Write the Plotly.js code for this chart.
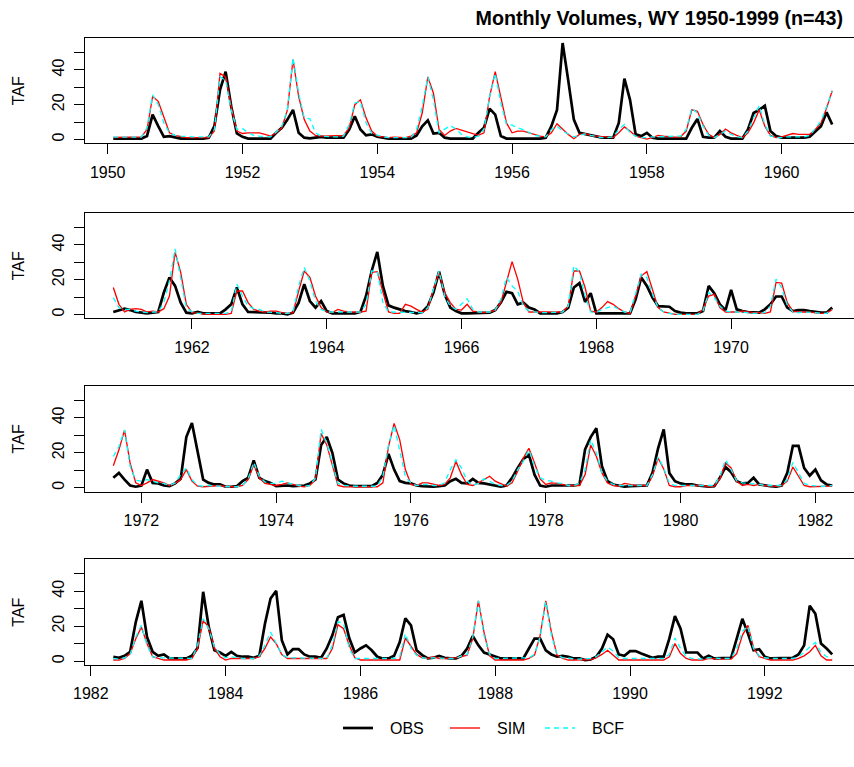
<!DOCTYPE html>
<html>
<head>
<meta charset="utf-8">
<script src="https://cdn.plot.ly/plotly-3.0.1.min.js"></script>
<style>html,body{margin:0;padding:0;background:#fff;}#chart{width:854px;height:767px;}</style>
</head>
<body>
<div id="chart"></div>
<script>
// First month (decimal year, as plotted) of each panel; 129 months per panel
const panelStart = [1950.0833, 1960.8333, 1971.5833, 1982.3333];
const seriesNames = ['OBS', 'SIM', 'BCF'];
const yTickVals = [0, 10, 20, 30, 40, 50];
const yTickText = ['0', '', '20', '', '40', ''];
const xTickVals = [
  [1950, 1952, 1954, 1956, 1958, 1960],
  [1962, 1964, 1966, 1968, 1970],
  [1972, 1974, 1976, 1978, 1980, 1982],
  [1982, 1984, 1986, 1988, 1990, 1992]
];
const xTickText = [
  ['1950', '1952', '1954', '1956', '1958', '1960'],
  ['1962', '1964', '1966', '1968', '1970'],
  ['1972', '1974', '1976', '1978', '1980', '1982'],
  ['1982', '1984', '1986', '1988', '1990', '1992']
];

// ---- Panel 1 (WY 1950-1960) ----
const obs1 = [0.5,0.5,0.5,0.5,0.5,0.5,2,14.3,7.6,1.5,
  1.9,1,0.5,0.5,0.5,0.5,0.5,1,7.6,28.5,
  39,19,3.4,1.5,0.5,0.5,0.5,0.5,0.5,3.8,
  6.7,11.4,17,3.8,1,0.6,1,1.5,1,1,
  1,1,5.7,13.3,5.7,2.3,2.9,1.5,1,0.4,
  0.4,0.4,0.4,0.4,2.3,7.6,11,3.4,3.8,1,
  0.5,0.5,0.5,0.5,0.5,3.8,6.7,17.7,14.3,1.9,
  0.5,0.5,0.5,0.5,0.5,0.5,0.5,1,7.6,17,
  55.5,34,11.4,3.8,3.2,2.3,1.9,1,1,1,
  9.5,35,22.8,2.9,1.9,3.8,1,0.5,0.5,0.5,
  0.5,0.5,0.5,6.7,11.8,1.5,1,1,4.8,1.5,
  0.5,0.5,0.5,5.7,15.2,17,19.4,4.8,1.9,1,
  1,1,1,1,1.5,4.8,7.6,15.6,8.6];
const sim1 = [1.1,1.1,1.1,1.1,1.1,1.5,5.7,24.7,21.9,12.4,
  3.8,2.3,1.5,1,1,1,1,1,4.8,38,
  36,19,4.8,3.4,3.8,3.8,3.8,2.9,1.9,3.8,
  6.7,17,46,24.7,11.4,4.8,2.3,1.9,1.9,1.9,
  1.9,2.3,6.7,20,22.8,12.4,4.8,1.9,1.5,1,
  1.3,1,1,1.9,3.8,15.2,36,26.6,5.7,2.3,
  4.8,6.3,5.3,4.2,3.4,2.3,3.8,24.7,39,24.7,
  9.5,3.8,4.8,4.8,3.8,2.9,1.9,1.5,3.8,9,
  5.7,2.9,0.4,2.9,3.3,2.3,1.9,1.5,1,1,
  3.8,7.2,4.8,1.9,1,0.2,1,2.3,1.9,1.5,
  1.3,1.5,4.8,17,16.2,8.6,2.9,1,2.9,6,
  3.8,2.3,1,3.8,9.5,17,7.6,2.3,1,1.5,
  2.3,3.4,2.9,2.9,2.9,5.7,9.5,18,28];
const bcf1 = [1.3,1.3,1.3,1.3,1.3,1.3,6.7,25.7,20,9.5,
  3.8,2.3,1.9,1.5,1.5,1.5,1.5,1.5,5.7,36,
  34,17,5.7,6.3,3.8,2.3,1.9,1.9,1.5,4.2,
  7.6,17,47,26.6,12.4,11.8,3.8,1.9,1.5,1.5,
  1.5,1.9,8.6,21,21.9,9.5,3.4,2.3,1.5,1,
  1,1,1,1,5.7,19,36,22.8,3.8,5.7,
  8,6,2.9,1.5,1,1.9,6,24.7,38,21,
  8.6,8.2,6.7,5.7,3.8,2.3,1.9,1.5,5.7,7.6,
  4.8,2.9,1.5,2.3,3.2,2.3,1.5,1,1,1.5,
  5.7,8.6,3.8,1.9,1,1,1.5,1.5,1.5,1.5,
  1.5,1.9,5.7,18,15.2,7.6,2.3,1,2.9,4.8,
  2.9,1.5,1,4.8,12.4,19.4,8.6,1.9,1,1,
  1.5,1.5,1.5,1.5,2.3,6.7,10.5,19,27.6];

// ---- Panel 2 ----
const obs2 = [1.4,2.3,3.3,2.5,1.4,1,0.6,1,1.4,12.6,
  21.3,16.4,6.8,1,0.6,1.4,0.6,0.6,0.6,0.6,
  2.9,5.8,15.5,5.8,1.4,1.4,1.4,1,1,0.6,
  0.6,0,1,6.8,17.4,7.7,3.9,7.7,1.9,0.6,
  0.6,0.6,0.6,0.6,1.4,10.6,25,36,16.4,5.2,
  3.9,2.9,1.9,1.4,0.6,1.4,4.8,12.6,24.6,11.6,
  3.9,1.9,0.6,0.6,0.6,1,0.6,1,2.5,6.8,
  13,12.2,5.8,6.8,3.9,2.9,0.6,0.6,0.6,0.6,
  1.4,3.9,15.5,18,7.2,12.2,0.6,0.6,0.6,0.6,
  0.6,0.6,0.6,8.7,21.3,16.4,9.7,4.8,4.4,4.4,
  1.9,1,0.6,0.6,0.6,1.9,16.4,12.2,5.8,2.5,
  14.1,2.9,1.9,1.4,1.4,1,2.9,5.8,10.3,10.3,
  3.9,1.9,2.5,2.5,1.9,1.4,1,1,3.9];
const sim2 = [15.5,5.8,1.4,2.9,3.3,2.9,1.4,1.9,1.4,3.3,
  10.6,35.8,24.2,5.8,1,0.6,0,0,0,0,
  0,0.6,13.5,13.5,6.8,2.9,1.9,1.4,1.9,1.9,
  1,0.6,1,13.5,25,21.3,10.6,3.9,1.4,1,
  2.9,1.9,1.4,1.4,1.4,1.9,24.2,24.6,12.6,1.4,
  0.6,0.6,5.8,4.8,2.9,1.4,2.9,14.5,24.2,12.6,
  6.8,2.9,2.5,5.8,1.9,1.4,1,1.4,2.5,6.8,
  18.4,30.4,20.3,6.8,1.4,1.4,1,1,1,1,
  1.4,4.8,25,25,15.5,1.9,1.4,3.9,7.4,5.8,
  3.3,1.4,0.6,10.6,22.2,24.6,14.5,3.9,1.4,0.6,
  0,0,0,0,0,2.9,10.6,11.6,3.9,1.4,
  1.4,1.4,1.9,1.4,1,1,0.6,1.4,18.4,18,
  6.8,1.9,1.4,1.4,1.4,1,0.6,0.6,2.9];
const bcf2 = [9.7,3.9,2.9,2.9,1.9,1.4,1,1.4,1.4,6.8,
  19.3,37.7,21.3,3.9,1.4,0.6,0.6,0.6,0.6,0.6,
  0.6,1.4,17.4,10.6,4.8,3.3,2.9,1.4,1.4,1,
  0.6,0.6,1.4,16.4,27,19.3,7.7,2.9,1.4,1.2,
  1.4,1.4,1.4,1.4,1.4,5.8,25,25,6.8,1.4,
  1.4,1.4,1.4,1.4,1,1,3.9,14.5,25,10.6,
  4.8,2.9,5.8,9,2.9,1.4,1.4,1.4,2.5,8.7,
  21.3,16.4,13.5,4.8,1.9,1.4,1,1,1,1,
  1.4,4.8,28,24.2,10.6,1.4,1,2.9,3.9,4.8,
  2.9,1.4,1,12.6,23.2,21.3,11.6,3.9,1.4,0.6,
  0,0,0,0,0,1.9,12.6,9.7,4.8,1.9,
  1.4,1.4,1.4,1,0.6,0.6,1,4.8,20.3,15.5,
  5.2,1.4,1,1.4,1.4,1,0.6,0.6,2.9];

// ---- Panel 3 ----
const obs3 = [5.7,8.5,4.7,1.3,0.6,1.3,10.4,2.8,2.5,1.3,
  0.9,2.5,5.1,29,37,19.8,4.7,2.8,1.9,1.9,
  0.6,0.6,0.9,3.8,5.7,15.7,5.7,3.8,2.8,0.9,
  1.3,1.3,0.9,0.9,1.3,2.5,4.7,24.5,29,20,
  4.7,2.5,1.3,0.9,0.9,0.9,0.9,2.8,7.5,19.4,
  10.4,3.8,2.8,2.5,1.3,0.9,0.6,0.6,0.9,1.3,
  3.8,5.1,2.8,2.5,5.1,2.8,2.5,1.9,1.3,0.6,
  1.3,5.7,11.3,16.4,18.9,7.5,1.3,0.6,1.3,1.3,
  1.3,0.9,1.3,1.9,22,29,34,12.3,3.8,1.9,
  1.3,0.6,0.9,0.9,0.9,1.3,8.5,22.6,33.4,8.5,
  3.8,2.5,1.9,1.9,1.3,0.9,0.6,0.9,5.7,11.9,
  8.9,3.8,2.5,2.8,5.7,1.9,1.3,0.9,0.6,1.3,
  8.5,24,24,11.3,7,10.4,4.2,1.9,1.3];
const sim3 = [12.6,21.7,33,14,2.8,1.3,2.8,4.7,3.8,2.8,
  1.3,2.5,4.7,10.4,3.8,0.9,0.6,0.9,1.3,1.3,
  0.6,0.6,0.6,1.3,4.7,13.2,5.7,2.5,1.9,1.3,
  1.9,2.8,1.9,0.9,0.6,1.3,4.7,31,24.5,12.3,
  1.3,0.6,0.6,0.6,0.6,0.6,0.6,0.6,2.8,23.6,
  36.8,27.4,10.4,1.9,1.3,2.8,2.8,1.9,1.3,1.9,
  5.7,15.1,7.5,1.9,1.3,2.8,4.7,6.6,3.8,2.5,
  0.9,2.8,9.4,17,22.6,14.2,5.1,1.9,2.8,2.5,
  1.9,1.3,1.3,1.3,7.5,24.5,18,8.5,2.8,1.3,
  0.9,2.5,1.9,1.3,1.3,1.3,6.6,17,10.8,1.3,
  0.6,0.6,1.3,1.3,1.3,1.3,0.6,0.9,5.1,14.2,
  11.3,3.8,1.3,1.9,1.3,1.9,1.3,0.9,0.9,1.3,
  3.8,11.9,6.6,1.3,0.6,0.6,0.6,0.6,0.9];
const bcf3 = [17.9,23.6,33,12.3,4.3,3.8,4.7,3.8,2.8,2.5,
  1.3,2.8,7.5,11.3,4.7,1.3,0.9,1.3,1.3,0.9,
  0.6,0.6,0.6,1.3,5.1,14.5,6.6,3.3,2.5,2.5,
  3.8,2.8,1.9,1.3,0.9,1.3,5.7,33.4,25.5,14.2,
  2.5,1.3,0.9,0.9,0.9,0.9,0.9,0.9,6.6,24.5,
  35.8,21.7,6.6,2.5,1.3,1.9,1.9,1.3,1.3,2.8,
  10.4,16,11.3,3.8,1.3,2.5,5.1,3.8,1.9,1.3,
  1.3,3.8,10.4,15.1,21.7,12.3,5.7,4.3,3.8,2.8,
  2.5,1.3,1.3,2.5,10.4,27.4,19.8,8.5,3.8,1.9,
  1.3,1.3,1.3,1.3,1.3,1.3,7.5,17.5,11.3,2.5,
  1.3,1.3,1.3,1.3,1.3,1.3,0.9,1.3,6.6,16,
  10.4,3.8,2.8,2.5,2.5,1.9,1.3,1.3,0.9,1.3,
  4.7,14.5,8.5,2.5,1.3,0.9,0.9,0.9,1.3];

// ---- Panel 4 ----
const obs4 = [2.5,1.9,3,5.3,22.3,34.5,13.8,5.3,3,3.8,
  1.5,1.5,1.5,1.5,3,7.5,39.6,19.4,6.2,4.9,
  3,5.3,3,2.5,2.5,1.9,3,21.3,35.8,40.2,
  11.9,3.8,6.8,6.8,3.8,2.5,2.5,1.9,7.2,14.7,
  25.1,26.4,13.2,4.9,7.2,9,6.2,2.5,1.5,1.5,
  3,10.9,24.5,20.4,6.2,3.4,1.5,1.9,3,1.9,
  1.5,1.5,3,7.2,14.3,9,4.9,3.8,2.5,1.5,
  1.5,1.5,1.5,1.5,7.2,12.8,12.8,6.2,3.8,2.5,
  3,2.5,1.5,1.5,0.6,0.9,2.5,7.2,15.1,12.5,
  3.8,3,5.7,5.7,4.3,3,1.9,2.5,2.5,12.8,
  25.7,18.5,4.9,4.9,4.9,1.5,3,1.5,1.5,1.5,
  1.9,12.8,24.2,15.7,6.2,6.8,2.5,1.5,1.5,1.5,
  1.5,1.9,3.8,9,31.7,27,10,7.2,3.8];
const sim4 = [0.6,0.6,1.5,4.3,12.8,19.4,10,2.5,1.5,0.6,
  0.6,0.6,0.6,0.6,1.5,7.2,23.2,19.4,7.2,2.5,
  0.6,1.5,1.5,1.5,1.5,1.5,2.5,7.2,13.8,10,
  3.8,1.5,1.5,1.5,1.5,1.5,1.5,1.5,1.5,7.2,
  20.8,18.5,9,1.9,0.6,0.6,0.6,0.6,0.6,0.6,
  0.6,0.6,13.2,8.1,3.8,1.9,1.5,2.5,1.5,1.5,
  1.5,1.9,2.5,3.4,12.8,34.5,16.6,3,0.6,0.6,
  0.6,0.6,0.6,0.6,1.5,3.4,14.7,34.5,16.6,3.4,
  1.5,0.6,0.6,0.6,0.6,0.9,1.9,3.8,6.2,3.4,
  0.6,0.6,0.6,0.6,0.6,0.6,0.6,0.6,0.6,2.5,
  10,4.3,1.5,0.6,0.6,0.6,1.5,1.1,1.1,1.1,
  1.1,4.3,14.7,20.4,7.5,2.5,1.5,0.6,0.6,0.6,
  0.6,0.6,1.5,3,5.3,9,3,0.6,0.6];
const bcf4 = [1.5,1.1,1.9,3.8,13.8,20.4,9,2.5,1.9,1.9,
  1.5,1.5,1.5,1.5,1.5,9,24.2,18.5,8.1,3.8,
  1.9,2.5,1.9,1.5,1.5,1.5,3,9,16.6,10,
  3.8,1.9,1.9,1.5,1.5,1.5,1.5,1.5,1.5,9,
  22.5,21.3,7.2,1.5,1.5,1.5,1.5,1.5,1.5,1.5,
  1.5,2.5,15.7,7.2,3.4,1.9,1.5,1.9,1.5,1.5,
  1.5,1.5,3,3.8,13.8,34.5,14.7,3.8,1.5,1.5,
  1.5,1.5,1.5,1.5,1.9,3.8,13.8,34,15,3.8,
  1.9,1.9,1.1,1.1,1.1,1.5,2.5,5.3,8.1,5.7,
  1.9,1.5,1.5,1.5,1.5,1.5,1.5,1.5,1.5,3.8,
  13.2,7.2,2.5,1.5,1.5,1.1,1.9,1.5,1.5,1.5,
  1.5,7.2,17,20,7.2,3,1.9,1.5,1.5,1.5,
  1.5,1.5,2.5,4.9,8.1,10.6,4.9,2.5,1.5];

const panels = [[obs1, sim1, bcf1], [obs2, sim2, bcf2], [obs3, sim3, bcf3], [obs4, sim4, bcf4]];

// ---- styling ----
const W = 854, H = 767;
const FONT = 'Liberation Sans, Arial, sans-serif';
const FS = 16;
const styles = [
  {color: '#000000', width: 2.7, dash: 'solid'},
  {color: '#ff0000', width: 1.33, dash: 'solid'},
  {color: '#00ffff', width: 1.33, dash: '5px,4px'}
];
// plot boxes in pixels: [top, bottom]
const boxes = [[38.3, 143.3], [213.3, 318.3], [386, 491.7], [559.3, 665]];
const leftPx = 85;

const traces = [];
const layout = {
  width: W, height: H,
  margin: {l: 0, r: 0, t: 0, b: 0},
  paper_bgcolor: '#ffffff', plot_bgcolor: '#ffffff',
  font: {family: FONT, size: FS, color: '#000'},
  showlegend: false,
  annotations: [],
  shapes: []
};

panels.forEach((series, p) => {
  const n = series[0].length;
  const xs = [];
  for (let i = 0; i < n; i++) xs.push(panelStart[p] + i / 12);
  const xa = 'x' + (p === 0 ? '' : p + 1);
  const ya = 'y' + (p === 0 ? '' : p + 1);
  series.forEach((vals, s) => {
    traces.push({
      x: xs, y: vals, type: 'scatter', mode: 'lines',
      name: seriesNames[s], showlegend: false,
      line: {color: styles[s].color, width: styles[s].width, dash: styles[s].dash},
      xaxis: xa, yaxis: ya, hoverinfo: 'skip'
    });
  });
  const [top, bot] = boxes[p];
  const xKey = 'xaxis' + (p === 0 ? '' : p + 1);
  const yKey = 'yaxis' + (p === 0 ? '' : p + 1);
  layout[xKey] = {
    domain: [leftPx / W, 1],
    range: [panelStart[p] - 0.42, panelStart[p] + 10.99],
    anchor: ya,
    showgrid: false, zeroline: false,
    showline: true, mirror: true, linecolor: '#000', linewidth: 1,
    ticks: 'outside', ticklen: 10, tickwidth: 1, tickcolor: '#000',
    ticklabelstandoff: 4,
    tickmode: 'array', tickvals: xTickVals[p], ticktext: xTickText[p],
    tickfont: {family: FONT, size: FS, color: '#000'}
  };
  layout[yKey] = {
    domain: [1 - bot / H, 1 - top / H],
    range: [-2.24, 58.2],
    anchor: xa,
    showgrid: false, zeroline: false,
    showline: true, mirror: false, linecolor: '#000', linewidth: 1,
    ticks: 'outside', ticklen: 10, tickwidth: 1, tickcolor: '#000',
    ticklabelstandoff: 4,
    tickmode: 'array', tickvals: yTickVals, ticktext: yTickText,
    tickangle: -90,
    tickfont: {family: FONT, size: FS, color: '#000'},
    title: {text: 'TAF', font: {family: FONT, size: FS, color: '#000'}, standoff: 20}
  };
});

layout.title = {
  text: '<b>Monthly Volumes, WY 1950-1999 (n=43)</b>',
  x: 843 / W, xanchor: 'right', xref: 'paper',
  y: 1 - 18 / H, yanchor: 'middle', yref: 'paper',
  font: {family: FONT, size: 19.7, color: '#000'}
};

// ---- legend (drawn in paper space, R-style horizontal legend) ----
const legendY = 1 - 728 / H;
const legendLineStart = [343, 450, 545];
const legendSegLen = 30;
const legendTextGap = 45;
seriesNames.forEach((name, s) => {
  const x0 = legendLineStart[s];
  layout.shapes.push({
    type: 'line', xref: 'paper', yref: 'paper',
    x0: x0 / W, x1: (x0 + legendSegLen) / W, y0: legendY, y1: legendY,
    line: {color: styles[s].color, width: styles[s].width, dash: styles[s].dash}
  });
  layout.annotations.push({
    text: name, xref: 'paper', yref: 'paper',
    x: (x0 + legendTextGap) / W, y: legendY, xanchor: 'left', yanchor: 'middle',
    showarrow: false, font: {family: FONT, size: FS, color: '#000'}
  });
});

Plotly.newPlot('chart', traces, layout, {staticPlot: true, displayModeBar: false});
</script>
</body>
</html>
